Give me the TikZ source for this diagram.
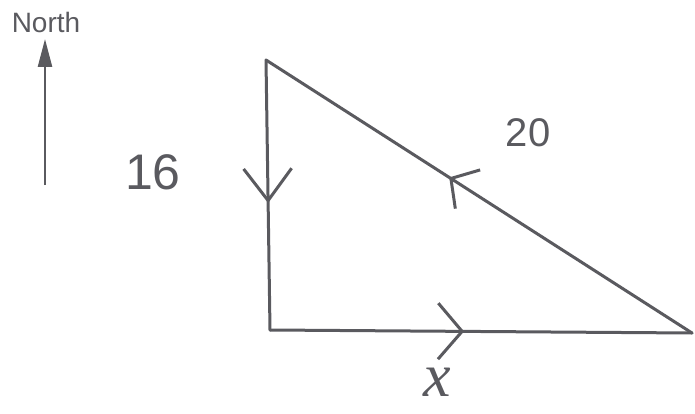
\documentclass[tikz,border=0pt]{standalone}
\usepackage{fontspec}
\setmainfont{Liberation Sans}
\newfontfamily\handserif{Liberation Serif}
\usetikzlibrary{arrows.meta,decorations.markings}
\definecolor{pen}{HTML}{5A5A5F}
\tikzset{
  side/.style={draw=pen, line width=3pt, line cap=round, line join=round},
  chev/.style n args={3}{postaction={decorate}, decoration={markings,
     mark=at position #1 with {\arrow[pen, line width=3pt]{Straight Barb[length=#2pt,width=#3pt]}}}},
  hand/.style={text=pen, inner sep=0pt}
}
\begin{document}
\begin{tikzpicture}[x=1pt,y=-1pt]
\useasboundingbox (0,0) rectangle (695,414);
% vertices
\coordinate (A) at (266,60);
\coordinate (L) at (270,330);
\coordinate (R) at (692,333);
% sides
\draw[side, chev={0.53}{32}{48}] (A) -- (L);
\draw[side, chev={0.46}{24}{56}] (L) -- (R);
\draw[side, chev={0.57}{20}{46}] (R) -- (A);
% labels
\node[hand, font=\fontsize{50}{56}\selectfont] (n16) at (153,172) {16};
\node[hand, font=\fontsize{40}{46}\selectfont] (n20) at (528,133) {20};
\node[hand, font=\handserif\itshape\fontsize{62}{66}\selectfont] (nx) at (437,382) {x};
% north arrow
\node[hand, font=\fontsize{28}{32}\selectfont] (north) at (46,22) {North};
\coordinate (Nb) at (45,185);
\coordinate (Nt) at (45,39);
\draw[pen, line width=2.5pt, -{Triangle[length=28pt,width=14pt]}] (Nb) -- (Nt);
\end{tikzpicture}
\end{document}
